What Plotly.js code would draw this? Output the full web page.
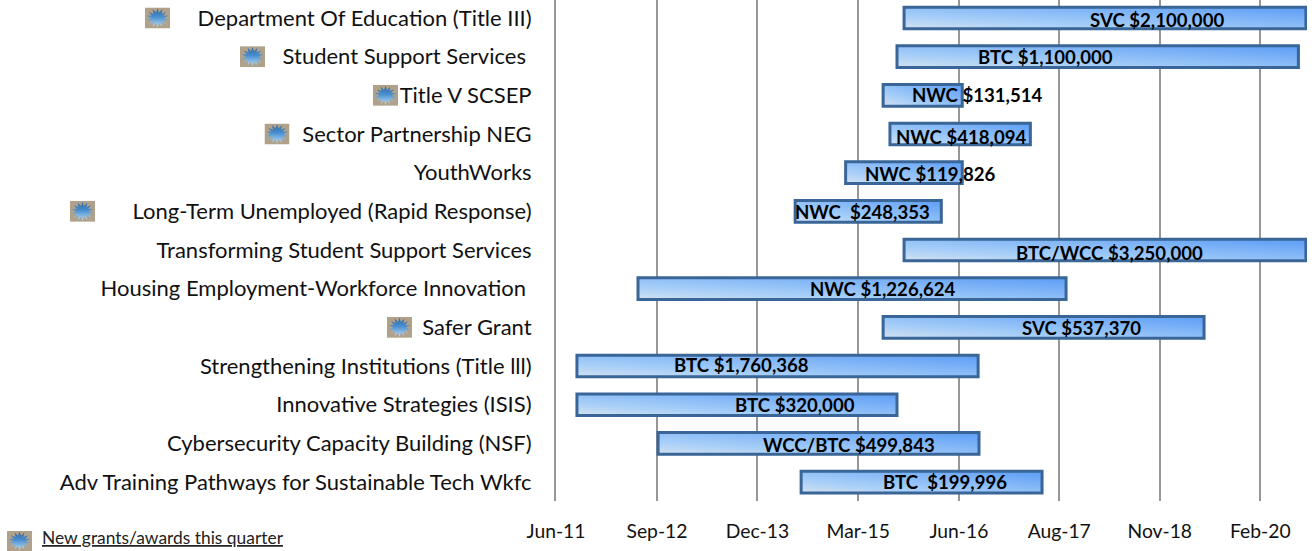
<!DOCTYPE html>
<html>
<head>
<meta charset="utf-8">
<script src="https://cdn.plot.ly/plotly-3.0.1.min.js"></script>
<style>html,body{margin:0;padding:0;background:#fff;overflow:hidden}#chart{width:1314px;height:551px}</style>
</head>
<body>
<div id="chart"></div>
<script>
const grants = ["Department Of Education (Title III)","Student Support Services\u00a0","Title V SCSEP","Sector Partnership NEG","YouthWorks","Long-Term Unemployed (Rapid Response)","Transforming Student Support Services","Housing Employment-Workforce Innovation\u00a0","Safer Grant","Strengthening Institutions (Title lll)","Innovative Strategies (ISIS)","Cybersecurity Capacity Building (NSF)","Adv Training Pathways for Sustainable Tech Wkfc"];
const startDates = ["2015-09-27","2015-08-26","2015-06-24","2015-07-25","2015-01-05","2014-05-21","2015-09-27","2012-06-07","2015-06-24","2011-09-04","2011-09-04","2012-09-06","2014-06-17"];
const endDates = ["2020-09-23","2020-08-20","2016-06-17","2017-04-22","2016-06-17","2016-03-14","2020-09-23","2017-10-01","2019-06-19","2016-08-28","2015-08-26","2016-09-01","2017-06-14"];
const awardLabels = ["SVC $2,100,000","BTC $1,100,000","NWC $131,514","NWC $418,094","NWC $119,826","NWC\u00a0 $248,353","BTC/WCC $3,250,000","NWC $1,226,624","SVC $537,370","BTC $1,760,368","BTC $320,000","WCC/BTC $499,843","BTC\u00a0 $199,996"];
const newThisQuarter = [true,true,true,true,false,true,false,false,true,false,false,false,false];
const tickDates = ["2011-06-01","2012-09-01","2013-12-01","2015-03-03","2016-06-02","2017-08-31","2018-11-30","2020-02-29"];
const tickLabels = ["Jun-11","Sep-12","Dec-13","Mar-15","Jun-16","Aug-17","Nov-18","Feb-20"];

// label placement, in screen pixels relative to each bar's centre
const labelShiftX = [52,-52,54,1,26,-6,5,31,38,-36,58,30,24];
const labelShiftY = [-2,0,0,-3,-1,-1,-3,0,-1,1,0,-2,0];
const iconLeftPx = [145,240,373,264.5,null,70,null,null,387,null,null,null,null];

const W = 1314, H = 551, L = 556, R = 7, B = 50;
const plotW = W - L - R, plotH = H - B;
const FONT = "Lato, Carlito, Calibri, sans-serif";

const iconSvg = '<svg xmlns="http://www.w3.org/2000/svg" width="50" height="42" viewBox="0 0 50 42"><defs><linearGradient id="g" x1="0" y1="0" x2="0" y2="1"><stop offset="0" stop-color="#2c659f"/><stop offset="0.45" stop-color="#4a8fd0"/><stop offset="1" stop-color="#bfe0f6"/></linearGradient></defs><rect width="50" height="42" fill="#b0a18a"/>' +
  '<polygon fill="url(#g)" points="STAR"/></svg>';
function starPoints() {
  const pts = [];
  for (let i = 0; i < 28; i++) {
    const a = i * Math.PI / 14 - Math.PI / 2, r = i % 2 ? 12 : 21;
    pts.push((25 + r * Math.cos(a) * 1.05).toFixed(1) + "," + (21 + r * Math.sin(a) * 0.92).toFixed(1));
  }
  return pts.join(" ");
}
const iconUrl = "data:image/svg+xml;charset=utf-8," + encodeURIComponent(iconSvg.replace("STAR", starPoints()));

const images = [];
grants.forEach((g, i) => {
  if (!newThisQuarter[i]) return;
  images.push({source: iconUrl, xref: "paper", yref: "y", x: (iconLeftPx[i] - L) / plotW, y: g,
    sizex: 25 / plotW, sizey: 21 / 38.67, xanchor: "left", yanchor: "middle", sizing: "stretch", layer: "above"});
});
images.push({source: iconUrl, xref: "paper", yref: "paper", x: (7 - L) / plotW, y: (plotH - 531) / plotH,
  sizex: 25 / plotW, sizey: 20 / plotH, xanchor: "left", yanchor: "top", sizing: "stretch", layer: "above"});

const mid = i => new Date((Date.parse(startDates[i]) + Date.parse(endDates[i])) / 2).toISOString().slice(0, 10);
const annotations = awardLabels.map((t, i) => ({
  text: "<b>" + t + "</b>", x: mid(i), y: grants[i], xref: "x", yref: "y", showarrow: false,
  xshift: labelShiftX[i], yshift: labelShiftY[i], xanchor: "center", yanchor: "middle",
  font: {family: FONT, size: 18.6, color: "#000"}
}));
annotations.push({text: "<u>New grants/awards this quarter</u>", xref: "paper", yref: "paper",
  x: (40 - L) / plotW, y: (plotH - 537) / plotH, xanchor: "left", yanchor: "middle", showarrow: false,
  font: {family: FONT, size: 17.4, color: "#222"}});

const trace = {
  type: "bar", orientation: "h", y: grants, base: startDates,
  x: startDates.map((s, i) => Date.parse(endDates[i]) - Date.parse(s)),
  width: 0.56, hoverinfo: "y",
  marker: {color: "#8fc1f8", line: {color: "#3a6597", width: 3}}
};

const layout = {
  width: W, height: H, showlegend: false, paper_bgcolor: "#fff", plot_bgcolor: "#fff",
  margin: {l: L, r: R, t: 0, b: B, pad: 0},
  xaxis: {type: "date", range: ["2011-06-01", "2020-09-28"], tickmode: "array", tickvals: tickDates, ticktext: tickLabels,
    showgrid: true, gridcolor: "#979797", gridwidth: 2, zeroline: false, showline: false,
    ticks: "outside", ticklen: 13, tickcolor: "rgba(0,0,0,0)", tickangle: 0,
    tickfont: {family: FONT, size: 19.3, color: "#111"}},
  yaxis: {type: "category", categoryorder: "array", categoryarray: grants, range: [12.49, -0.465],
    showgrid: false, zeroline: false, showline: true, linecolor: "#979797", linewidth: 2,
    ticks: "outside", ticklen: 18, tickcolor: "rgba(0,0,0,0)",
    tickfont: {family: FONT, size: 22, color: "#111"}},
  images, annotations
};

Plotly.newPlot("chart", [trace], layout, {displayModeBar: false, staticPlot: true}).then(gd => {
  const svg = gd.querySelector(".main-svg");
  const NS = "http://www.w3.org/2000/svg";
  const defs = svg.querySelector("defs") || svg.appendChild(document.createElementNS(NS, "defs"));
  const grad = document.createElementNS(NS, "linearGradient");
  grad.setAttribute("id", "barGradient");
  grad.setAttribute("x1", "0"); grad.setAttribute("y1", "1");
  grad.setAttribute("x2", "1"); grad.setAttribute("y2", "0");
  [["0", "#d3e1f0"], ["0.3", "#a6cef8"], ["1", "#5c9df6"]].forEach(([o, c]) => {
    const s = document.createElementNS(NS, "stop");
    s.setAttribute("offset", o); s.setAttribute("stop-color", c);
    grad.appendChild(s);
  });
  defs.appendChild(grad);
  gd.querySelectorAll(".bars .point path").forEach(p => { p.style.fill = "url(#barGradient)"; });
});
</script>
</body>
</html>
